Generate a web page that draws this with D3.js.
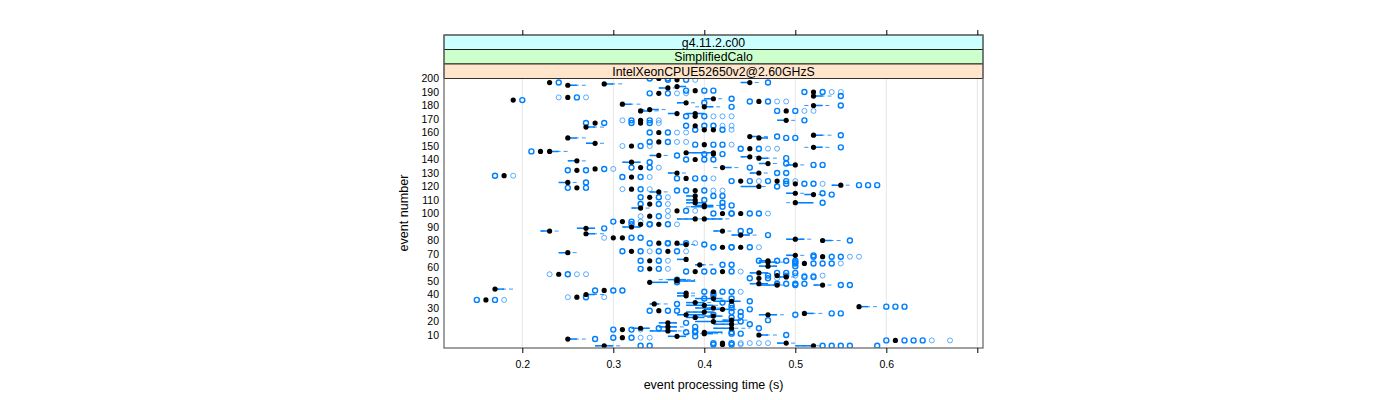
<!DOCTYPE html>
<html>
<head>
<meta charset="utf-8">
<script src="https://cdn.jsdelivr.net/npm/d3@7"></script>
<style>
  html,body{margin:0;padding:0;background:#fff;}
  svg{display:block;}
  text{font-family:"Liberation Sans",Arial,sans-serif;fill:#000;}
</style>
</head>
<body>
<script>
const stripLabels=["g4.11.2.c00","SimplifiedCalo","IntelXeonCPUE52650v2@2.60GHzS"];
const stripColors=["#ccffff","#ccffcc","#ffe5cc"];
const xTickValues=[0.2,0.3,0.4,0.5,0.6,0.7];
const yTickValues=[10,20,30,40,50,60,70,80,90,100,110,120,130,140,150,160,170,180,190,200];

// events where quartiles collapse on the median : dot and rings only
const dotEvents=[200,199,197,191,190,189,186,184,183,176,
  172,169,167,167,165,162,162,160,153,151,
  150,148,146,144,140,134,133,132,128,127,
  126,124,124,122,119,118,117,112,107,102,
  100,100,98,94,92,92,82,82,78,78,
  75,75,72,72,68,65,63,59,57,57,
  55,54,52,43,42,38,36,28,14,8,
  6,4,3];
const dotMedians=[.35,.37,.23,.39,.52,.35,.25,.19,.46,.49,
  .39,.33,.33,.28,.39,.40,.41,.35,.35,.40,
  .32,.45,.22,.41,.39,.33,.28,.26,.18,.32,
  .38,.44,.48,.50,.26,.32,.39,.34,.34,.37,
  .42,.44,.34,.31,.33,.35,.31,.30,.35,.37,
  .42,.44,.32,.36,.53,.34,.51,.34,.39,.42,
  .24,.48,.46,.29,.41,.26,.16,.35,.31,.31,
  .61,.42,.42];
const dotStrong=[[.34,.36],[.36,.38],[.24],[.38,.40,.41],[.51,.53],[.34,.36],[.26],[.20],[.45,.47],[.48,.50],
  [.38,.40],[.32,.34],[.32,.34],[.27,.29],[.38,.40,.41],[.39],[.42],[.34,.36],[.34,.36],[.39,.41,.42],
  [.33],[.44,.46],[.21],[.40,.42],[.38,.40,.41],[.32,.34],[.29],[.25,.27],[.17],[.31,.33],
  [.37,.39,.40],[.43,.45],[.47,.49],[.49,.51,.52],[.25,.27],[.33],[.37,.38,.40],[.33,.35],[.33,.35],[.38],
  [.41,.43],[.43,.45,.46],[.35],[.30,.32],[.32,.34],[.34,.36],[.32,.33],[],[.34,.36],[.36,.38],
  [.41,.43],[.43,.45],[.31,.33],[.35,.37],[.52,.54,.55],[.33,.35],[.50,.52,.53,.54],[.33,.35],[.38,.40],[.41,.43],
  [.25],[.47,.49],[.45,.47],[.28,.30,.31],[.40,.42,.43],[.27],[.15,.17],[.34,.36,.37],[.30,.32],[.30,.32],
  [.60,.62,.63,.64],[.41,.43],[.41,.43]];
const dotFaint=[[],[.39],[],[],[.54,.55],[.37,.38],[.24,.27],[],[.48,.49],[.51,.52],
  [.41,.42,.43],[.31,.35],[.35],[],[.42,.43],[],[.43],[.37,.38],[.37,.38],[.43],
  [.31,.34],[.47,.48],[],[],[],[.35],[.30],[],[.19],[.34],
  [.41],[.46],[.50],[.53],[],[.31,.34],[.41,.42],[.36],[.36],[.36,.39],
  [],[.47],[.33,.36],[.33],[],[.37],[.29],[],[],[.39],
  [],[.46],[.34],[.38],[.56,.57],[.36],[.55],[.36],[],[.44],
  [.23,.26,.27],[.50,.51,.52,.53],[.48],[],[.44],[.25,.29],[.18],[],[.33],[.33,.34],
  [.65,.67],[.44,.45,.46,.47],[.44]];

// events with a visible box and whiskers
const boxEvents=[197,196,195,193,194,187,185,182,181,180,
  179,177,176,174,174,169,164,158,157,156,
  156,152,149,146,145,145,143,142,141,139,
  138,137,136,134,130,130,123,121,120,116,
  115,114,110,108,105,104,96,96,90,89,
  87,87,85,84,81,80,71,69,66,64,
  62,51,50,49,47,47,44,41,40,39,
  35,33,32,31,30,29,26,25,25,23,
  21,20,19,16,15,15,13,12,11,10,
  9,7,4,2,2,113,108,106,61,65,
  56,48,37,34,27,24,18,77,53];
const boxMedians=[.45,.29,.25,.36,.37,.52,.41,.38,.31,.52,
  .40,.34,.33,.37,.39,.49,.27,.52,.45,.46,
  .25,.28,.52,.23,.38,.41,.35,.45,.46,.26,
  .32,.47,.50,.42,.46,.37,.25,.55,.46,.35,
  .50,.52,.39,.50,.40,.33,.39,.40,.32,.27,
  .23,.42,.27,.44,.50,.53,.25,.50,.38,.47,
  .395,.37,.37,.34,.53,.48,.17,.38,.27,.38,
  .43,.345,.40,.57,.41,.42,.51,.47,.38,.39,
  .43,.41,.36,.36,.33,.43,.36,.40,.40,.46,
  .37,.25,.49,.52,.29,.39,.39,.40,.47,.47,
  .46,.46,.41,.39,.40,.41,.43,.38,.49];
const boxLow=[.44,.29,.25,.35,.37,.52,.40,.37,.31,.52,
  .40,.34,.33,.36,.38,.48,.27,.52,.45,.46,
  .25,.27,.52,.23,.38,.40,.34,.44,.46,.25,
  .31,.46,.49,.42,.45,.36,.24,.54,.44,.34,
  .49,.51,.38,.50,.385,.32,.37,.40,.31,.26,
  .22,.41,.27,.43,.49,.53,.24,.49,.37,.46,
  .39,.36,.37,.34,.52,.46,.17,.37,.27,.37,
  .41,.34,.38,.57,.39,.40,.51,.46,.37,.38,
  .42,.39,.35,.35,.32,.41,.34,.40,.40,.46,
  .36,.25,.48,.50,.28,.38,.38,.39,.46,.46,
  .45,.45,.39,.38,.38,.40,.41,.37,.48];
const boxHigh=[.45,.30,.26,.36,.38,.53,.41,.38,.32,.53,
  .41,.35,.34,.37,.40,.49,.28,.53,.46,.47,
  .26,.28,.53,.24,.40,.41,.35,.45,.47,.26,
  .33,.47,.50,.43,.46,.37,.25,.55,.46,.35,
  .50,.52,.39,.52,.41,.33,.39,.42,.33,.28,
  .23,.42,.28,.45,.51,.54,.25,.50,.38,.48,
  .40,.38,.39,.36,.53,.48,.18,.38,.28,.38,
  .44,.35,.41,.58,.41,.43,.52,.48,.40,.40,
  .44,.43,.37,.37,.34,.43,.37,.42,.41,.47,
  .38,.26,.49,.52,.30,.39,.40,.41,.48,.47,
  .47,.47,.42,.40,.41,.42,.43,.38,.49];
const whiskLow=[.44,.29,.25,.35,.37,.52,.40,.37,.31,.51,
  .39,.33,.33,.36,.38,.48,.27,.52,.45,.46,
  .25,.27,.51,.23,.38,.40,.34,.44,.46,.25,
  .31,.46,.49,.41,.45,.36,.24,.54,.44,.34,
  .49,.51,.38,.49,.38,.32,.37,.40,.31,.26,
  .22,.41,.27,.43,.49,.53,.24,.49,.37,.46,
  .39,.35,.37,.34,.52,.46,.17,.37,.27,.37,
  .41,.34,.38,.57,.39,.40,.51,.46,.37,.38,
  .42,.39,.35,.35,.32,.41,.34,.40,.38,.46,
  .36,.25,.48,.50,.28,.38,.38,.39,.46,.46,
  .45,.45,.39,.38,.38,.39,.41,.37,.48];
const whiskHigh=[.46,.31,.27,.37,.38,.54,.42,.39,.33,.54,
  .42,.36,.35,.37,.40,.50,.29,.54,.47,.47,
  .27,.29,.54,.25,.40,.41,.36,.46,.48,.27,
  .33,.48,.51,.44,.47,.38,.26,.56,.47,.36,
  .51,.53,.39,.52,.41,.34,.41,.43,.33,.28,
  .24,.43,.29,.46,.52,.55,.26,.51,.38,.49,
  .41,.39,.39,.36,.54,.49,.19,.39,.29,.39,
  .44,.36,.42,.59,.42,.44,.53,.49,.40,.41,
  .45,.43,.37,.38,.34,.45,.38,.42,.42,.48,
  .38,.27,.50,.53,.31,.39,.40,.42,.48,.47,
  .47,.47,.42,.41,.41,.42,.44,.39,.50];
const boxOutliers=[[.47],[],[],[],[],[.55],[.43],[.40],[],[.55],
  [.43],[],[],[],[],[.51],[],[.55],[.48],[.49,.50],
  [],[],[.55],[],[],[],[.37],[],[.49],[],
  [.34],[.49],[.52,.53],[.45],[.48,.49],[],[.27],[.57,.58,.59],[.48],[],
  [.53],[.54],[.40],[.53],[.42],[],[],[],[],[.29],
  [],[.44,.45],[],[.47],[],[.56],[],[.52],[],[.50],
  [.42,.43],[.37],[],[.37],[.55,.56],[.50],[],[.41],[],[.41],
  [.45],[.37],[.43],[.60,.61,.62],[.43],[.45],[.54,.55],[.50],[.41],[.43],
  [.47],[.44],[.38],[.39],[.35],[.46],[.39],[.38,.39,.43],[.43,.44],[.49],
  [.39],[.28],[],[.53,.54,.55,.56,.59],[.33,.34],[.41,.42],[.42],[.43],[.50],[.46,.48,.49,.50],
  [.48,.49,.50],[.48,.49,.50,.51],[.40,.43],[.42],[.43,.44],[.44],[.45],[.40],[.51,.52]];

const W=1400,H=400;
const panel={left:444,right:983,top:78.5,bottom:348};
const x=d3.scaleLinear().domain([0.2,0.7]).range([522.3,977.3]);
const y=d3.scaleLinear().domain([10,200]).range([335,78.5]);
const blue="#0080ff";

const svg=d3.select("body").append("svg").attr("width",W).attr("height",H);
svg.append("defs").append("clipPath").attr("id","panelClip").append("rect")
  .attr("x",panel.left).attr("y",panel.top).attr("width",panel.right-panel.left).attr("height",panel.bottom-panel.top);

// grid
svg.append("g").selectAll("line").data(xTickValues).enter().append("line")
  .attr("x1",d=>x(d)).attr("x2",d=>x(d)).attr("y1",panel.top).attr("y2",panel.bottom)
  .attr("stroke","#e6e6e6").attr("stroke-width",1);

const marks=svg.append("g").attr("clip-path","url(#panelClip)");

function rings(vals,ev,strong){
  marks.selectAll(null).data(vals).enter().append("circle")
    .attr("cx",d=>x(d)).attr("cy",y(ev)).attr("r",2.5)
    .attr("fill","none").attr("stroke",blue)
    .attr("stroke-width",strong?1.4:0.8).attr("stroke-opacity",strong?1:0.8);
}

boxEvents.forEach((ev,i)=>{
  marks.append("line").attr("x1",x(whiskLow[i])).attr("x2",x(whiskHigh[i])).attr("y1",y(ev)).attr("y2",y(ev))
    .attr("stroke",blue).attr("stroke-width",0.8).attr("stroke-dasharray","4,3");
  marks.append("line").attr("x1",x(boxLow[i])).attr("x2",x(boxHigh[i])).attr("y1",y(ev)).attr("y2",y(ev))
    .attr("stroke",blue).attr("stroke-width",1.5);
  rings(boxOutliers[i],ev,true);
});
dotEvents.forEach((ev,i)=>{
  rings(dotStrong[i],ev,true);
  rings(dotFaint[i],ev,false);
});
marks.selectAll(".med").data(dotEvents.map((ev,i)=>[ev,dotMedians[i]]).concat(boxEvents.map((ev,i)=>[ev,boxMedians[i]])))
  .enter().append("circle").attr("class","med")
  .attr("cx",d=>x(d[1])).attr("cy",d=>y(d[0])).attr("r",2.6).attr("fill","#000");

// strips
const stripY=[35,49.5,64];
stripLabels.forEach((s,i)=>{
  svg.append("rect").attr("x",panel.left).attr("y",stripY[i]).attr("width",panel.right-panel.left).attr("height",14.5)
    .attr("fill",stripColors[i]).attr("stroke","#000").attr("stroke-width",0.8);
  svg.append("text").attr("x",(panel.left+panel.right)/2).attr("y",stripY[i]+11.5)
    .attr("text-anchor","middle").attr("font-size",12.3).text(s);
});

// frame
svg.append("rect").attr("x",panel.left).attr("y",35).attr("width",panel.right-panel.left).attr("height",panel.bottom-35)
  .attr("fill","none").attr("stroke","#6e6e6e").attr("stroke-width",1.3);

// axes
const axB=svg.append("g").attr("transform","translate(0,"+panel.bottom+")")
  .call(d3.axisBottom(x).tickValues(xTickValues).tickSize(5).tickPadding(8).tickFormat(d=>d===0.7?"":d3.format(".1f")(d)));
axB.select(".domain").remove();
axB.selectAll("text").attr("font-size",10.5).style("font-family",'"Liberation Sans",Arial,sans-serif');
const axT=svg.append("g").attr("transform","translate(0,35)")
  .call(d3.axisTop(x).tickValues(xTickValues).tickSize(5).tickFormat(""));
axT.select(".domain").remove();
const axL=svg.append("g").attr("transform","translate("+panel.left+",0)")
  .call(d3.axisLeft(y).tickValues(yTickValues).tickSize(0).tickPadding(5));
axL.select(".domain").remove();
axL.selectAll("text").attr("font-size",10.5).style("font-family",'"Liberation Sans",Arial,sans-serif');

svg.append("text").attr("x",713.5).attr("y",389).attr("text-anchor","middle").attr("font-size",12.5)
  .text("event processing time (s)");
svg.append("text").attr("transform","translate(408,213) rotate(-90)").attr("text-anchor","middle").attr("font-size",12.6)
  .text("event number");
</script>
</body>
</html>
